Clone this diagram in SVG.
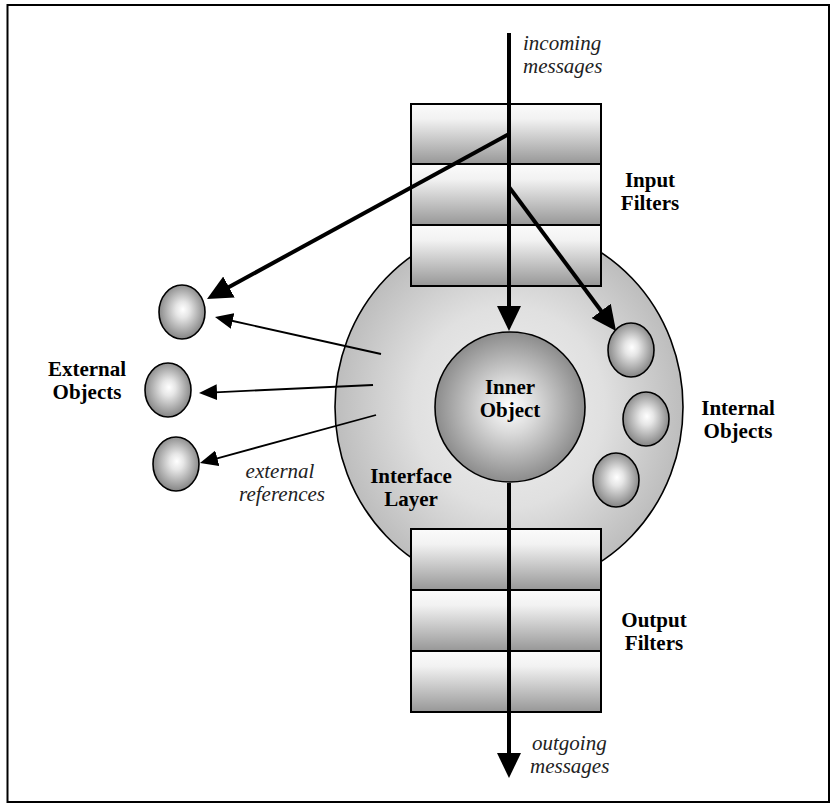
<svg xmlns="http://www.w3.org/2000/svg" width="834" height="807" viewBox="0 0 834 807">
  <defs>
    <radialGradient id="layerFill" cx="0.5" cy="0.5" r="0.5">
      <stop offset="0" stop-color="#f0f0f0"/>
      <stop offset="0.55" stop-color="#e0e0e0"/>
      <stop offset="1" stop-color="#bdbdbd"/>
    </radialGradient>
    <radialGradient id="innerFill" cx="0.5" cy="0.5" r="0.5">
      <stop offset="0" stop-color="#ffffff"/>
      <stop offset="0.35" stop-color="#dadada"/>
      <stop offset="1" stop-color="#8c8c8c"/>
    </radialGradient>
    <radialGradient id="sphereFill" cx="0.5" cy="0.48" r="0.5" fx="0.52" fy="0.45">
      <stop offset="0" stop-color="#ffffff"/>
      <stop offset="0.3" stop-color="#e6e6e6"/>
      <stop offset="1" stop-color="#8a8a8a"/>
    </radialGradient>
    <linearGradient id="filterFill" x1="0" y1="0" x2="0" y2="1">
      <stop offset="0" stop-color="#fbfbfb"/>
      <stop offset="0.25" stop-color="#f2f2f2"/>
      <stop offset="1" stop-color="#979797"/>
    </linearGradient>
    <marker id="headBold" markerUnits="userSpaceOnUse" markerWidth="26" markerHeight="24" refX="2" refY="12" orient="auto">
      <path d="M0,0 L25,12 L0,24 z" fill="#000"/>
    </marker>
    <marker id="headThin" markerUnits="userSpaceOnUse" markerWidth="19" markerHeight="16" refX="2" refY="8" orient="auto">
      <path d="M0,0 L18,8 L0,16 z" fill="#000"/>
    </marker>
  </defs>
  <style>
    .frame { fill: #ffffff; stroke: #000; stroke-width: 2; }
    .shape { stroke: #000; stroke-width: 1.6; }
    .cell { fill: url(#filterFill); stroke: #000; stroke-width: 2; }
    .sphere { fill: url(#sphereFill); stroke: #000; stroke-width: 1.6; }
    .bold { font-family: "Liberation Serif", "Times New Roman", serif; font-weight: bold; font-size: 21px; fill: #000; text-anchor: middle; }
    .note { font-family: "Liberation Serif", "Times New Roman", serif; font-style: italic; font-size: 21px; fill: #222; }
    .thick { fill: none; stroke: #000; stroke-width: 4; marker-end: url(#headBold); }
    .thin { fill: none; stroke: #000; stroke-width: 1.8; marker-end: url(#headThin); }
  </style>

  <rect class="frame" x="7.5" y="5" width="821.5" height="797"/>

  <!-- interface layer -->
  <g id="interface-layer">
    <ellipse class="shape" cx="509" cy="407" rx="174" ry="182" fill="url(#layerFill)"/>
    <text class="bold" x="411" y="483">Interface</text>
    <text class="bold" x="411" y="506">Layer</text>
  </g>

  <!-- input filter stack -->
  <g id="input-filters">
    <rect class="cell" x="411" y="104" width="190" height="60"/>
    <rect class="cell" x="411" y="164" width="190" height="61"/>
    <rect class="cell" x="411" y="225" width="190" height="61"/>
    <text class="bold" x="650" y="187">Input</text>
    <text class="bold" x="650" y="210">Filters</text>
  </g>

  <!-- output filter stack -->
  <g id="output-filters">
    <rect class="cell" x="411" y="529" width="190" height="61"/>
    <rect class="cell" x="411" y="590" width="190" height="61"/>
    <rect class="cell" x="411" y="651" width="190" height="61"/>
    <text class="bold" x="654" y="627">Output</text>
    <text class="bold" x="654" y="650">Filters</text>
  </g>

  <!-- inner object -->
  <g id="inner-object">
    <circle class="shape" cx="510" cy="407" r="75" fill="url(#innerFill)"/>
    <text class="bold" x="510" y="394">Inner</text>
    <text class="bold" x="510" y="417">Object</text>
  </g>

  <!-- internal objects -->
  <g id="internal-objects">
    <ellipse class="sphere" cx="631" cy="350" rx="23" ry="27"/>
    <ellipse class="sphere" cx="646" cy="419" rx="23" ry="27"/>
    <ellipse class="sphere" cx="616" cy="480" rx="23" ry="27"/>
    <text class="bold" x="738" y="415">Internal</text>
    <text class="bold" x="738" y="438">Objects</text>
  </g>

  <!-- external objects -->
  <g id="external-objects">
    <ellipse class="sphere" cx="182" cy="312" rx="23" ry="27"/>
    <ellipse class="sphere" cx="168" cy="390" rx="23" ry="27"/>
    <ellipse class="sphere" cx="176" cy="464" rx="23" ry="27"/>
    <text class="bold" x="87" y="376">External</text>
    <text class="bold" x="87" y="399">Objects</text>
  </g>

  <!-- message flow and references -->
  <g id="connectors">
    <line class="thick" x1="509" y1="33" x2="509" y2="308"/>
    <line class="thick" x1="509" y1="134" x2="227.2" y2="288"/>
    <line class="thick" x1="509" y1="187" x2="602.3" y2="312.5"/>
    <line class="thick" x1="509" y1="483" x2="509" y2="755"/>
    <line class="thin" x1="381" y1="354" x2="230.6" y2="320.5"/>
    <line class="thin" x1="373" y1="385" x2="215" y2="392.3"/>
    <line class="thin" x1="376" y1="415" x2="215.4" y2="458.8"/>
  </g>

  <!-- flow labels -->
  <g id="labels">
    <text class="note" x="523" y="50">incoming</text>
    <text class="note" x="523" y="73">messages</text>
    <text class="note" x="532" y="750">outgoing</text>
    <text class="note" x="530" y="773">messages</text>
    <text class="note" x="280" y="478" text-anchor="middle">external</text>
    <text class="note" x="282" y="501" text-anchor="middle">references</text>
  </g>
</svg>
